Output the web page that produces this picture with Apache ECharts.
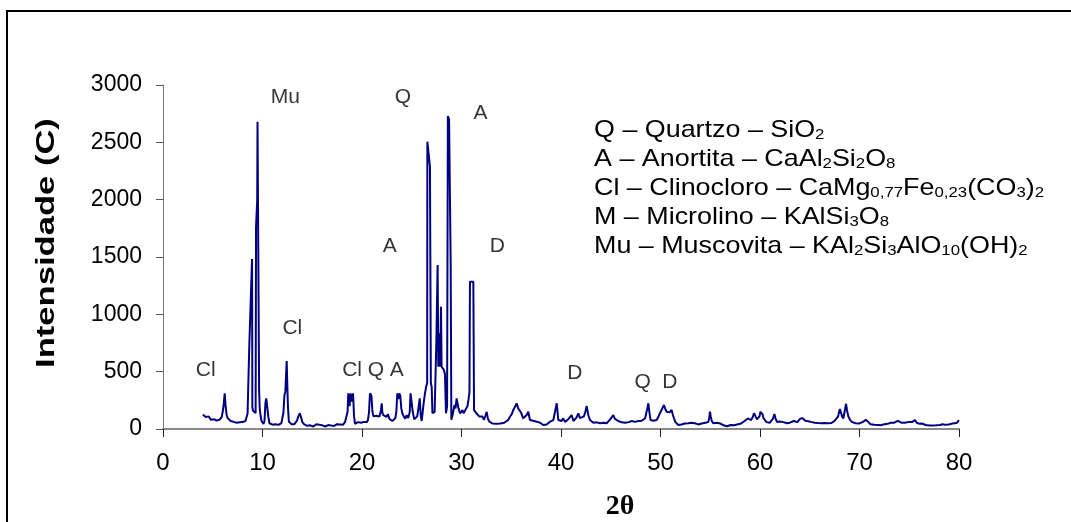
<!DOCTYPE html>
<html>
<head>
<meta charset="utf-8">
<script src="https://cdn.jsdelivr.net/npm/echarts@6/dist/echarts.min.js"></script>
<style>
  html, body { margin: 0; padding: 0; background: #fff; }
  #chart { width: 1071px; height: 522px; }
</style>
</head>
<body>
<div id="chart"></div>
<script>
// ---- Data ----
const twoTheta = [
  4.0,4.1,4.2,4.3,4.4,4.5,4.6,4.7,4.8,4.9,5.0,5.1,5.2,5.3,5.4,5.5,5.6,5.7,5.8,5.9,
  6.0,6.1,6.2,6.3,6.4,6.5,6.6,6.7,6.8,6.9,7.0,7.1,7.2,7.3,7.4,7.5,7.6,7.7,7.8,7.9,
  8.0,8.1,8.2,8.3,8.4,8.5,8.6,8.68,8.95,8.98,9.05,9.12,9.2,9.31,9.35,9.47,9.5,9.62,9.66,9.72,
  9.8,9.9,10.0,10.1,10.2,10.3,10.38,10.5,10.58,10.7,10.8,10.9,11.0,11.1,11.2,11.3,11.4,11.5,11.6,11.7,
  11.8,11.9,12.0,12.1,12.2,12.3,12.43,12.55,12.65,12.75,12.9,13.0,13.1,13.2,13.3,13.45,13.6,13.75,13.9,14.0,
  14.1,14.2,14.3,14.4,14.5,14.6,14.7,14.8,14.9,15.0,15.1,15.2,15.3,15.4,15.5,15.6,15.7,15.8,15.9,16.0,
  16.1,16.2,16.3,16.4,16.5,16.6,16.7,16.8,16.9,17.0,17.1,17.2,17.3,17.4,17.5,17.6,17.7,17.8,17.9,18.0,
  18.1,18.2,18.3,18.45,18.55,18.62,18.75,18.85,18.98,19.1,19.2,19.3,19.4,19.5,19.6,19.7,19.8,19.9,20.0,20.1,
  20.2,20.3,20.4,20.5,20.6,20.7,20.8,20.95,21.05,21.15,21.3,21.45,21.6,21.75,21.9,21.98,22.05,22.15,22.3,22.45,
  22.6,22.75,22.9,23.05,23.2,23.35,23.45,23.55,23.65,23.75,23.85,23.95,24.05,24.2,24.35,24.5,24.65,24.8,24.88,25.0,
  25.1,25.25,25.4,25.55,25.7,25.8,25.9,26.0,26.1,26.2,26.33,26.45,26.55,26.57,26.83,26.92,27.0,27.08,27.17,27.3,
  27.4,27.47,27.6,27.67,27.77,27.85,27.94,28.0,28.1,28.2,28.34,28.44,28.55,28.63,28.75,28.91,28.98,29.1,29.2,29.3,
  29.4,29.51,29.6,29.7,29.85,29.95,30.1,30.2,30.35,30.45,30.6,30.7,30.8,30.85,31.19,31.26,31.35,31.5,31.65,31.8,
  31.95,32.1,32.25,32.4,32.53,32.65,32.8,32.95,33.1,33.3,33.5,33.7,33.9,34.1,34.3,34.5,34.7,34.87,35.05,35.2,
  35.35,35.54,35.7,35.88,36.0,36.2,36.35,36.55,36.71,36.88,37.05,37.2,37.4,37.55,37.7,37.9,38.05,38.22,38.4,38.55,
  38.7,38.9,39.05,39.23,39.4,39.57,39.73,39.9,40.05,40.23,40.4,40.57,40.75,40.9,41.07,41.25,41.4,41.55,41.74,41.9,
  42.07,42.3,42.45,42.58,42.75,42.91,43.1,43.25,43.42,43.6,43.75,43.92,44.1,44.3,44.45,44.59,44.75,44.9,45.05,45.26,
  45.4,45.59,45.75,45.9,46.1,46.26,46.45,46.6,46.8,46.95,47.1,47.27,47.45,47.6,47.78,47.94,48.1,48.3,48.45,48.54,
  48.68,48.78,48.88,49.0,49.15,49.3,49.45,49.61,49.75,49.9,50.02,50.11,50.25,50.35,50.5,50.62,50.78,50.92,51.05,51.12,
  51.25,51.36,51.5,51.65,51.79,51.95,52.1,52.3,52.45,52.63,52.8,52.95,53.1,53.3,53.45,53.6,53.8,53.97,54.15,54.3,
  54.5,54.64,54.8,54.9,54.97,55.05,55.15,55.3,55.5,55.7,55.85,56.0,56.2,56.4,56.55,56.7,56.9,57.05,57.2,57.4,
  57.6,57.8,57.95,58.1,58.3,58.45,58.6,58.77,58.9,59.1,59.25,59.4,59.55,59.7,59.8,59.95,60.05,60.14,60.25,60.35,
  60.5,60.65,60.83,61.0,61.15,61.3,61.45,61.55,61.7,61.85,62.0,62.15,62.35,62.55,62.7,62.85,63.0,63.2,63.4,63.58,
  63.75,63.9,64.05,64.15,64.26,64.4,64.55,64.7,64.85,64.95,65.1,65.3,65.5,65.7,65.85,65.98,66.15,66.3,66.5,66.7,
  66.85,67.0,67.15,67.3,67.5,67.69,67.85,67.95,68.03,68.15,68.25,68.38,68.5,68.65,68.75,68.89,69.05,69.23,69.4,69.6,
  69.8,69.95,70.1,70.3,70.5,70.65,70.78,70.9,71.1,71.3,71.5,71.7,71.9,72.15,72.4,72.6,72.8,73.0,73.18,73.35,
  73.5,73.7,73.86,74.05,74.2,74.4,74.55,74.75,74.9,75.1,75.3,75.45,75.58,75.75,75.9,76.05,76.27,76.45,76.65,76.85,
  77.05,77.3,77.5,77.7,77.9,78.1,78.33,78.55,78.75,78.95,79.15,79.36,79.55,79.75,79.9,80.0
];
const intensity = [
  125,118,122,105,112,88,110,95,80,92,78,85,72,86,74,80,70,82,88,105,
  150,215,311,190,120,95,82,78,70,74,66,62,58,64,55,60,52,58,62,55,
  60,58,66,72,105,135,140,750,1483,190,160,150,165,140,1760,2000,2680,2680,340,180,
  120,70,55,45,70,230,267,262,110,50,42,48,38,45,35,42,38,44,36,46,
  40,52,60,140,290,330,593,210,65,48,42,45,38,42,50,70,110,137,95,60,
  48,40,32,38,28,35,26,32,24,30,22,28,35,42,55,48,38,30,26,32,
  24,28,22,30,25,34,28,38,30,25,32,27,35,30,42,38,48,40,36,45,
  38,50,62,70,150,311,200,311,240,311,110,45,55,48,60,52,65,55,70,58,
  62,55,68,60,80,140,311,290,150,110,100,115,98,108,160,224,140,120,137,105,
  130,90,75,70,85,95,150,311,260,311,290,180,137,110,90,120,95,150,311,311,
  150,85,70,110,200,267,120,70,150,230,311,370,400,2506,2288,398,370,137,137,150,
  137,747,1430,543,834,543,1067,543,560,520,480,137,195,2730,2700,1474,80,120,165,210,
  180,267,224,180,137,120,165,137,160,175,200,253,320,1285,1285,165,150,137,120,108,
  95,110,80,115,150,90,65,55,48,52,45,55,48,60,55,62,80,107,130,165,
  190,224,180,195,140,93,110,122,150,78,90,72,80,64,75,55,48,35,45,40,
  52,64,58,78,90,224,78,85,70,93,62,64,88,95,122,70,78,100,137,95,
  78,110,150,200,120,78,70,55,64,58,48,50,45,55,48,50,62,80,95,122,
  90,78,70,65,58,64,55,68,60,58,70,69,62,75,70,78,72,85,93,110,
  180,224,150,78,90,72,85,78,100,130,140,166,150,209,170,151,160,145,150,166,
  120,93,60,48,35,45,40,55,48,64,50,42,55,64,50,45,40,35,48,42,
  55,50,60,95,151,110,70,50,45,55,48,48,40,30,35,24,30,35,28,33,
  38,42,45,48,55,70,62,92,78,78,100,137,110,85,78,110,150,167,130,95,
  78,60,48,55,62,90,131,95,62,58,65,55,60,62,50,58,55,62,70,71,
  60,75,90,107,95,80,72,75,68,71,62,58,55,60,52,54,50,48,52,45,
  50,48,52,60,70,77,110,150,173,140,110,92,150,220,160,107,80,62,55,50,
  55,48,54,60,70,80,92,60,42,45,38,42,35,33,40,36,45,48,54,60,
  55,65,71,58,55,60,54,65,60,70,62,75,77,55,50,45,48,40,35,38,
  30,30,36,32,40,35,42,38,45,40,42,48,45,52,60,77
];

// Axis ticks
const xTicks = { min: 0, max: 80, step: 10 };
const yTicks = { min: 0, max: 3000, step: 500 };

// Peak annotations (label, 2θ position, intensity position)
const peakNames = ['Cl','Mu','Cl','Cl','Q','A','Q','A','A','D','D','Q','D'];
const peakPos2T = [4.3,12.3,13.0,19.0,21.4,23.5,24.1,31.9,22.8,33.6,41.4,48.2,50.95];
const peakPosI  = [515,2890,880,515,515,515,2890,2755,1590,1595,490,410,410];

// Phase legend text
const phaseLines = [
  'Q – Quartzo – SiO{s|2}',
  'A – Anortita – CaAl{s|2}Si{s|2}O{s|8}',
  'Cl – Clinocloro – CaMg{s|0,77}Fe{s|0,23}(CO{s|3}){s|2}',
  'M – Microlino – KAlSi{s|3}O{s|8}',
  'Mu – Muscovita – KAl{s|2}Si{s|3}AlO{s|10}(OH){s|2}'
];

const xAxisTitle = '2θ';
const yAxisTitle = 'Intensidade (C)';

// ---- Chart ----
const FONT = '"Liberation Sans", Arial, Helvetica, sans-serif';
const scanData = twoTheta.map((t, i) => [t, intensity[i]]);
const peakData = peakNames.map((n, i) => ({ name: n, value: [peakPos2T[i], peakPosI[i]] }));

const chart = echarts.init(document.getElementById('chart'), null, { renderer: 'canvas' });

const legendY0 = 130, legendDY = 29;
const graphics = [
  { type: 'rect', silent: true, z: -10,
    shape: { x: 7, y: 11, width: 1300, height: 700 },
    style: { fill: '#fff', stroke: '#000', lineWidth: 2 } },
  { type: 'text', silent: true, x: 47, y: 243, rotation: Math.PI / 2, scaleX: 1.33,
    style: { text: yAxisTitle, font: 'bold 26px ' + FONT, fill: '#000',
             textAlign: 'center', textVerticalAlign: 'middle' } },
  { type: 'text', silent: true, x: 620, y: 507,
    style: { text: xAxisTitle, font: 'bold 28px "Liberation Serif", "Times New Roman", serif', fill: '#000',
             textAlign: 'center', textVerticalAlign: 'middle' } }
];
phaseLines.forEach((line, i) => {
  graphics.push({
    type: 'text', silent: true, x: 594, y: legendY0 + i * legendDY, scaleX: 1.12,
    style: {
      text: line, fontSize: 24, fontFamily: FONT, fill: '#000',
      textAlign: 'left', textVerticalAlign: 'middle',
      rich: { s: { fontSize: 15, fontFamily: FONT, fill: '#000', verticalAlign: 'bottom', lineHeight: 12 } }
    }
  });
});

chart.setOption({
  animation: false,
  backgroundColor: '#fff',
  grid: { left: 163, right: 112, top: 85, bottom: 93, containLabel: false },
  xAxis: {
    type: 'value', min: xTicks.min, max: xTicks.max, interval: xTicks.step,
    axisLine: { show: true, onZero: false, lineStyle: { color: '#8a8a8a', width: 2 } },
    axisTick: { show: true, inside: false, length: 8, lineStyle: { color: '#222', width: 1 } },
    axisLabel: { fontSize: 24, fontFamily: FONT, color: '#000', margin: 22,
                 formatter: v => String(v) },
    splitLine: { show: false }
  },
  yAxis: {
    type: 'value', min: yTicks.min, max: yTicks.max, interval: yTicks.step,
    axisLine: { show: true, lineStyle: { color: '#777', width: 1 } },
    axisTick: { show: true, inside: false, length: 7, lineStyle: { color: '#555', width: 1 } },
    axisLabel: { fontSize: 23, fontFamily: FONT, color: '#000', margin: 21,
                 formatter: v => String(v) },
    splitLine: { show: false }
  },
  series: [
    {
      type: 'line', data: scanData, showSymbol: false, symbol: 'none',
      lineStyle: { color: '#000080', width: 2 }, silent: true, z: 3
    },
    {
      type: 'scatter', data: peakData, symbolSize: 1, silent: true, z: 4,
      itemStyle: { color: 'rgba(0,0,0,0)' },
      label: { show: true, position: 'inside', formatter: '{b}', fontSize: 21,
               fontFamily: FONT, color: '#000' },
      emphasis: { disabled: true }
    }
  ],
  graphic: graphics
});
</script>
</body>
</html>
